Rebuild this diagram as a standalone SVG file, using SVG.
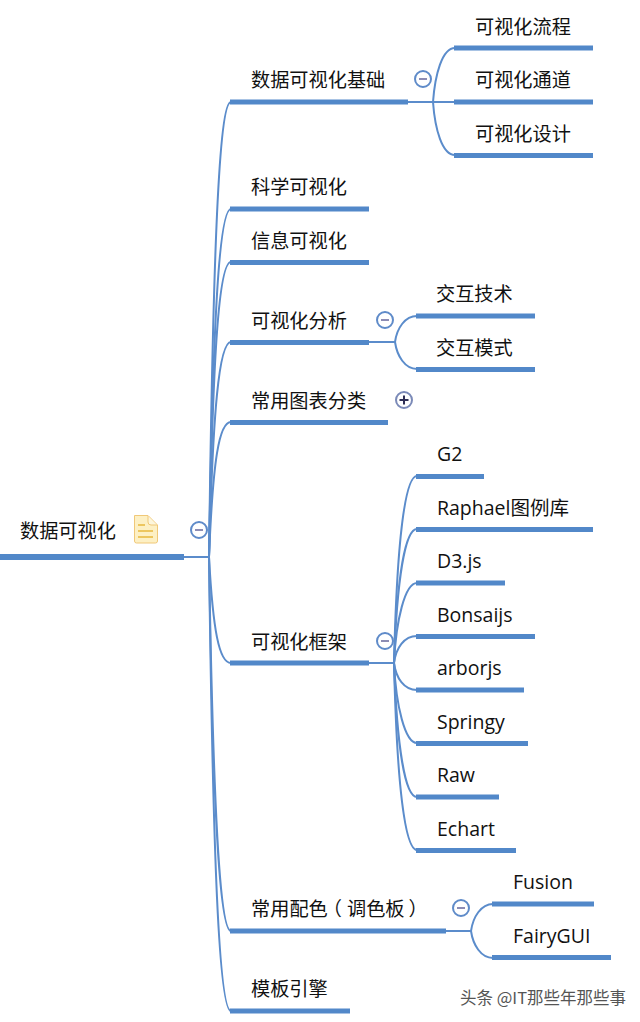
<svg xmlns="http://www.w3.org/2000/svg" width="640" height="1022" viewBox="0 0 640 1022">
<style>
.bar{fill:#5288c9}
.c{fill:none;stroke:#5b8ccb;stroke-width:2}
.t{font-family:"Noto Sans CJK SC","Open Sans",sans-serif;font-size:19.200px;fill:#111}
.l{font-family:"Open Sans","Noto Sans CJK SC",sans-serif;font-size:19.500px;fill:#111}
.btn{fill:#fff;stroke:#5f8bc9;stroke-width:2}
.m{stroke:#8c8cb4;stroke-width:2;fill:none}
</style>
<rect width="640" height="1022" fill="#fff"/>
<g id="connectors">
<path class="c" d="M184 557H209"/>
<path class="c" d="M209 557C213 250 219 102 231 102"/>
<path class="c" d="M209 557C213 320 219 209 231 209"/>
<path class="c" d="M209 557C213 350 219 262 231 262"/>
<path class="c" d="M209 557C213 410 219 342 231 342"/>
<path class="c" d="M209 557C213 460 219 422 231 422"/>
<path class="c" d="M209 557C213 630 219 663 231 663"/>
<path class="c" d="M209 557C213 800 219 931 231 931"/>
<path class="c" d="M209 557C213 860 219 1011 231 1011"/>
<path class="c" d="M408 102H433"/>
<path class="c" d="M433 102C435 75 442 48 455 48"/>
<path class="c" d="M433 102H455"/>
<path class="c" d="M433 102C435 129 442 155 455 155"/>
<path class="c" d="M369 342H395"/>
<path class="c" d="M395 342C397 328 405 316 417 316"/>
<path class="c" d="M395 342C397 356 405 369 417 369"/>
<path class="c" d="M369 663H394"/>
<path class="c" d="M394 663C397 540 405 476 417 476"/>
<path class="c" d="M394 663C397 580 405 529 417 529"/>
<path class="c" d="M394 663C396 620 405 583 417 583"/>
<path class="c" d="M394 663C396 648 404 636 417 636"/>
<path class="c" d="M394 663C396 678 404 690 417 690"/>
<path class="c" d="M394 663C396 706 405 743 417 743"/>
<path class="c" d="M394 663C397 746 405 797 417 797"/>
<path class="c" d="M394 663C397 786 405 850 417 850"/>
<path class="c" d="M446 931H471"/>
<path class="c" d="M471 931C473 917 481 904 493 904"/>
<path class="c" d="M471 931C473 945 481 958 493 958"/>
</g>
<g id="root"><rect class="bar" x="0" y="554" width="184" height="6"/><text class="t" x="20" y="538">数据可视化</text>
<path d="M134.500 515.500H148L157.500 525V541Q157.500 543 155.500 543H136.500Q134.500 543 134.500 541Z" fill="#fdf0c4" stroke="#f0c878"/><path d="M148 516V522Q148 525 151 525H157" fill="#fdf6dc" stroke="#f0c878"/><path d="M138 525H145M138 531H153M138 537H153" stroke="#e8b83c" stroke-width="1.500" fill="none"/>
<circle class="btn" cx="199" cy="530" r="8"/><path class="m" d="M195 530H203"/></g>
<g id="n1"><rect class="bar" x="230" y="99.500" width="178" height="5"/><text class="t" x="251" y="87">数据可视化基础</text><circle class="btn" cx="423" cy="79" r="8"/><path class="m" d="M419 79H427"/></g>
<g id="n1a"><rect class="bar" x="454" y="45.500" width="139" height="5"/><text class="t" x="475" y="34">可视化流程</text></g>
<g id="n1b"><rect class="bar" x="454" y="99.500" width="139" height="5"/><text class="t" x="475" y="87">可视化通道</text></g>
<g id="n1c"><rect class="bar" x="454" y="153" width="139" height="5"/><text class="t" x="475" y="141">可视化设计</text></g>
<g id="n2"><rect class="bar" x="230" y="206.500" width="139" height="5"/><text class="t" x="251" y="194">科学可视化</text></g>
<g id="n3"><rect class="bar" x="230" y="260" width="139" height="5"/><text class="t" x="251" y="248">信息可视化</text></g>
<g id="n4"><rect class="bar" x="230" y="340" width="139" height="5"/><text class="t" x="251" y="328">可视化分析</text><circle class="btn" cx="385" cy="320" r="8"/><path class="m" d="M381 320H389"/></g>
<g id="n4a"><rect class="bar" x="416" y="313.500" width="119" height="5"/><text class="t" x="436" y="301">交互技术</text></g>
<g id="n4b"><rect class="bar" x="416" y="367" width="119" height="5"/><text class="t" x="436" y="355">交互模式</text></g>
<g id="n5"><rect class="bar" x="230" y="420" width="158" height="5"/><text class="t" x="251" y="408">常用图表分类</text><circle class="btn" cx="404" cy="400" r="8" style="stroke:#7b8ab8"/><path d="M399.500 400H408.500M404 395.500V404.500" stroke="#2f2f55" stroke-width="2" fill="none"/></g>
<g id="n6"><rect class="bar" x="230" y="660.500" width="139" height="5"/><text class="t" x="251" y="649">可视化框架</text><circle class="btn" cx="385" cy="641" r="8"/><path class="m" d="M381 641H389"/></g>
<g id="n6a"><rect class="bar" x="416" y="474" width="68" height="5"/><text class="l" x="437" y="461">G2</text></g>
<g id="n6b"><rect class="bar" x="416" y="527" width="177" height="5"/><text class="l" x="437" y="515">Raphael图例库</text></g>
<g id="n6c"><rect class="bar" x="416" y="580.500" width="89" height="5"/><text class="l" x="437" y="568">D3.js</text></g>
<g id="n6d"><rect class="bar" x="416" y="634" width="119" height="5"/><text class="l" x="437" y="622">Bonsaijs</text></g>
<g id="n6e"><rect class="bar" x="416" y="687.500" width="108" height="5"/><text class="l" x="437" y="675">arborjs</text></g>
<g id="n6f"><rect class="bar" x="416" y="741" width="112" height="5"/><text class="l" x="437" y="729">Springy</text></g>
<g id="n6g"><rect class="bar" x="416" y="794.500" width="83" height="5"/><text class="l" x="437" y="782">Raw</text></g>
<g id="n6h"><rect class="bar" x="416" y="848" width="100" height="5"/><text class="l" x="437" y="836">Echart</text></g>
<g id="n7"><rect class="bar" x="230" y="928.500" width="216" height="5"/><text class="t" x="251" y="916" dx="0 0 0 0 -5 5 0 0 4">常用配色（调色板）</text><circle class="btn" cx="461" cy="908" r="8"/><path class="m" d="M457 908H465"/></g>
<g id="n7a"><rect class="bar" x="492" y="901.500" width="102" height="5"/><text class="l" x="513" y="889">Fusion</text></g>
<g id="n7b"><rect class="bar" x="492" y="955" width="119" height="5"/><text class="l" x="513" y="943">FairyGUI</text></g>
<g id="n8"><rect class="bar" x="230" y="1008.500" width="120" height="5"/><text class="t" x="251" y="996">模板引擎</text></g>
<text x="460" y="1004" font-family="Noto Sans CJK SC, sans-serif" font-size="16.500" fill="#555">头条 @IT那些年那些事</text>
</svg>
